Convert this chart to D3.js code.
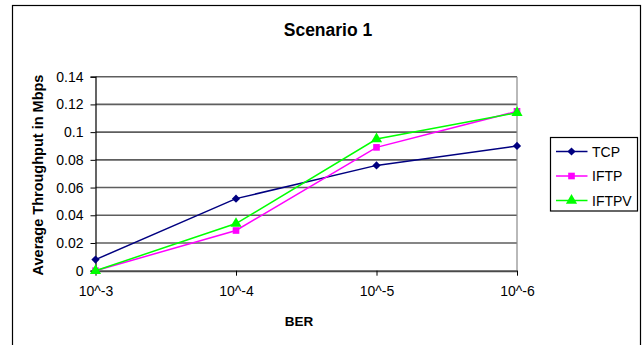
<!DOCTYPE html>
<html>
<head>
<meta charset="utf-8">
<script src="https://cdn.jsdelivr.net/npm/d3@7"></script>
<style>
  html, body { margin: 0; padding: 0; background: #fff; }
  svg { display: block; font-family: "Liberation Sans", Arial, sans-serif; }
</style>
</head>
<body>
<svg id="chart" width="644" height="345"></svg>
<script>
// BER levels along the x axis
const berLabels = ["10^-3", "10^-4", "10^-5", "10^-6"];
// Average throughput (Mbps) per protocol
const tcpValues   = [0.008, 0.052, 0.076, 0.090];
const iftpValues  = [0.000, 0.029, 0.089, 0.115];
const iftpvValues = [0.000, 0.034, 0.095, 0.114];
const yTicks = [0, 0.02, 0.04, 0.06, 0.08, 0.1, 0.12, 0.14];

// Diamonds are squares turned by 45 degrees
const series = [
  { name: "TCP",   values: tcpValues,   color: "#000080", shape: d3.symbolSquare,   size: 34, rot: 45 },
  { name: "IFTP",  values: iftpValues,  color: "#FF00FF", shape: d3.symbolSquare,   size: 44, rot: 0 },
  { name: "IFTPV", values: iftpvValues, color: "#00FF00", shape: d3.symbolTriangle, size: 54, rot: 0 }
];

const svg = d3.select("#chart");
const plot = { left: 95.5, right: 517, top: 76.7, bottom: 270.7 };

// Outer chart frame
svg.append("rect")
  .attr("x", 12.5).attr("y", 5.5)
  .attr("width", 628).attr("height", 360)
  .attr("fill", "#fff").attr("stroke", "#000").attr("stroke-width", 1.2);

const x = d3.scalePoint().domain(berLabels).range([plot.left, plot.right]);
const y = d3.scaleLinear().domain([0, 0.14]).range([plot.bottom, plot.top]);

// Horizontal gridlines
svg.append("g").selectAll("line")
  .data(yTicks.slice(1))
  .join("line")
  .attr("x1", plot.left).attr("x2", plot.right)
  .attr("y1", d => y(d)).attr("y2", d => y(d))
  .attr("stroke", "#5e5e5e").attr("stroke-width", 1.6);

// Right edge of plot area
svg.append("line")
  .attr("x1", plot.right).attr("x2", plot.right)
  .attr("y1", plot.top).attr("y2", plot.bottom)
  .attr("stroke", "#8a8a8a").attr("stroke-width", 1.2);

// Y axis
const yAxis = svg.append("g")
  .attr("transform", `translate(${plot.left},0)`)
  .call(d3.axisLeft(y).tickValues(yTicks).tickSize(5).tickPadding(7)
        .tickFormat(d => d3.format("")(+d.toFixed(2))));
yAxis.selectAll("text").attr("font-size", 14).attr("fill", "#000")
  .attr("font-family", "Liberation Sans, Arial, sans-serif");
yAxis.selectAll("line").attr("stroke", "#000");
yAxis.select(".domain").attr("stroke", "#000").attr("stroke-width", 1.2);

// X axis
const xAxis = svg.append("g")
  .attr("transform", `translate(0,${plot.bottom})`)
  .call(d3.axisBottom(x).tickSize(5).tickPadding(10).tickSizeOuter(0));
xAxis.selectAll("text").attr("font-size", 14).attr("fill", "#000")
  .attr("font-family", "Liberation Sans, Arial, sans-serif");
xAxis.selectAll("line").attr("stroke", "#000");
xAxis.select(".domain").attr("stroke", "#4a4a4a").attr("stroke-width", 2);

// Series lines and markers
const line = d3.line().x((d, i) => x(berLabels[i])).y(d => y(d));
series.forEach(s => {
  svg.append("path")
    .attr("d", line(s.values))
    .attr("fill", "none")
    .attr("stroke", s.color)
    .attr("stroke-width", 1.5);
  svg.append("g").selectAll("path")
    .data(s.values)
    .join("path")
    .attr("transform", (d, i) => `translate(${x(berLabels[i])},${y(d)}) rotate(${s.rot})`)
    .attr("d", d3.symbol().type(s.shape).size(s.size))
    .attr("fill", s.color);
});

// Titles
svg.append("text")
  .attr("x", 328).attr("y", 36)
  .attr("text-anchor", "middle")
  .attr("font-size", 17.5).attr("font-weight", "bold")
  .text("Scenario 1");

svg.append("text")
  .attr("x", 299).attr("y", 326)
  .attr("text-anchor", "middle")
  .attr("font-size", 13.5).attr("font-weight", "bold")
  .text("BER");

svg.append("text")
  .attr("transform", "translate(43,175) rotate(-90)")
  .attr("text-anchor", "middle")
  .attr("font-size", 14.5).attr("font-weight", "bold")
  .text("Average Throughput in Mbps");

// Legend
const legend = svg.append("g");
legend.append("rect")
  .attr("x", 550.5).attr("y", 137.5)
  .attr("width", 87).attr("height", 73.5)
  .attr("fill", "#fff").attr("stroke", "#000").attr("stroke-width", 1.2);
const legendY = d3.scalePoint().domain(series.map(s => s.name)).range([151.5, 200.5]);
series.forEach(s => {
  const ly = legendY(s.name);
  legend.append("line")
    .attr("x1", 556).attr("x2", 587.5)
    .attr("y1", ly).attr("y2", ly)
    .attr("stroke", s.color).attr("stroke-width", 1.5);
  legend.append("path")
    .attr("transform", `translate(571.5,${ly}) rotate(${s.rot})`)
    .attr("d", d3.symbol().type(s.shape).size(s.size))
    .attr("fill", s.color);
  legend.append("text")
    .attr("x", 592).attr("y", ly + 5)
    .attr("font-size", 14)
    .text(s.name);
});
</script>
</body>
</html>
